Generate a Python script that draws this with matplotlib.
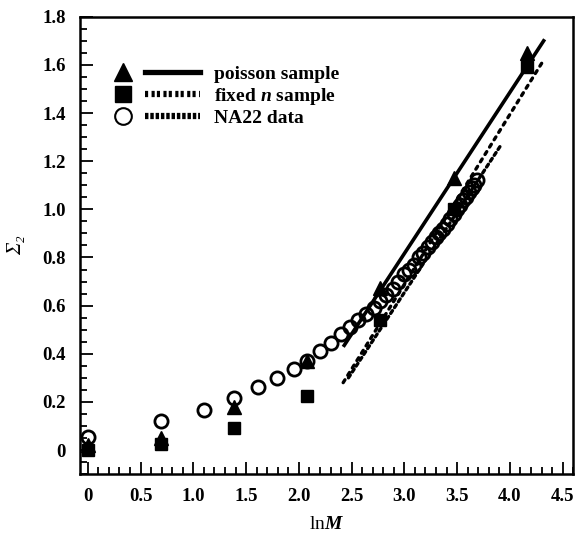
import matplotlib
matplotlib.use("Agg")
import matplotlib.pyplot as plt
from matplotlib.lines import Line2D
from matplotlib.legend_handler import HandlerBase
from matplotlib.ticker import MultipleLocator

# poisson sample (triangles)
poisson_x = [0.0, 0.69, 1.39, 2.08, 2.77, 3.47, 4.16]
poisson_y = [0.02, 0.05, 0.18, 0.37, 0.675, 1.13, 1.65]

# fixed n sample (squares)
fixed_x = [0.0, 0.69, 1.39, 2.08, 2.77, 3.47, 4.16]
fixed_y = [0.0, 0.025, 0.09, 0.225, 0.54, 1.0, 1.59]

# NA22 data (open circles)
na22_x = [0.0, 0.69, 1.10, 1.39, 1.61, 1.79, 1.95, 2.08, 2.20, 2.30,
          2.40, 2.48, 2.56, 2.64, 2.71, 2.77, 2.83, 2.89, 2.94, 3.00,
          3.04, 3.09, 3.14, 3.18, 3.22, 3.26, 3.30, 3.33, 3.37, 3.40,
          3.43, 3.47, 3.50, 3.53, 3.56, 3.58, 3.61, 3.64, 3.66, 3.69]
na22_y = [0.055, 0.12, 0.168, 0.215, 0.26, 0.30, 0.335, 0.37, 0.41, 0.445,
          0.48, 0.51, 0.54, 0.565, 0.59, 0.62, 0.645, 0.67, 0.70, 0.73,
          0.75, 0.77, 0.80, 0.82, 0.845, 0.865, 0.885, 0.90, 0.92, 0.94,
          0.96, 0.98, 1.00, 1.02, 1.04, 1.05, 1.07, 1.09, 1.10, 1.12]

# linear fits (end points)
poisson_fit_x = [2.43, 4.32]
poisson_fit_y = [0.435, 1.70]
fixed_fit_x = [2.42, 4.32]
fixed_fit_y = [0.28, 1.62]
na22_fit_x = [2.47, 3.92]
na22_fit_y = [0.30, 1.27]

x_ticks = [0, 0.5, 1.0, 1.5, 2.0, 2.5, 3.0, 3.5, 4.0, 4.5]
x_labels = ["0", "0.5", "1.0", "1.5", "2.0", "2.5", "3.0", "3.5", "4.0", "4.5"]
y_ticks = [0, 0.2, 0.4, 0.6, 0.8, 1.0, 1.2, 1.4, 1.6, 1.8]
y_labels = ["0", "0.2", "0.4", "0.6", "0.8", "1.0", "1.2", "1.4", "1.6", "1.8"]

legend_labels = ["poisson sample", "fixed $n$ sample", "NA22 data"]

plt.rcParams["font.family"] = ["Liberation Serif", "DejaVu Serif"]
plt.rcParams["font.weight"] = "bold"
plt.rcParams["mathtext.fontset"] = "custom"
plt.rcParams["mathtext.rm"] = "Liberation Serif:bold"
plt.rcParams["mathtext.it"] = "Liberation Serif:italic:bold"

FIXED_LS = (0, (1, 1.6))
NA22_LS = (0, (1, 1.1))


class MarkerLineHandler(HandlerBase):
    # marker on the left, line sample on the right
    def create_artists(self, legend, orig_handle, xdescent, ydescent,
                       width, height, fontsize, trans):
        mk, ls, lw = orig_handle
        y = height / 2 - ydescent
        x0 = -xdescent
        m = Line2D([x0 + 6], [y], marker=mk.get_marker(),
                   markersize=mk.get_markersize(), color="black",
                   markerfacecolor=mk.get_markerfacecolor(),
                   markeredgewidth=mk.get_markeredgewidth(), linestyle="none")
        l = Line2D([x0 + 22, x0 + width], [y, y], color="black",
                   linestyle=ls, linewidth=lw, dash_capstyle="butt")
        m.set_transform(trans)
        l.set_transform(trans)
        return [m, l]


fig = plt.figure(figsize=(5.79, 5.40), dpi=100)
ax = fig.add_axes([0.138, 0.122, 0.852, 0.847])

ax.plot(na22_x, na22_y, linestyle="none", marker="o", markersize=9.5,
        markerfacecolor="none", markeredgecolor="black", markeredgewidth=2.0)
ax.plot(poisson_x, poisson_y, linestyle="none", marker="^", markersize=10,
        color="black")
ax.plot(fixed_x, fixed_y, linestyle="none", marker="s", markersize=9,
        color="black")

ax.plot(poisson_fit_x, poisson_fit_y, color="black", linewidth=2.6)
ax.plot(fixed_fit_x, fixed_fit_y, color="black", linewidth=2.4,
        linestyle=FIXED_LS, dash_capstyle="round")
ax.plot(na22_fit_x, na22_fit_y, color="black", linewidth=2.4,
        linestyle=NA22_LS, dash_capstyle="round")

handles = [
    (Line2D([], [], marker="^", markersize=13, color="black"), "-", 3.8),
    (Line2D([], [], marker="s", markersize=12, color="black"),
     (0, (0.5, 0.55, 0.5, 0.35)), 4.5),
    (Line2D([], [], marker="o", markersize=12, markerfacecolor="none",
            markeredgewidth=1.5), (0, (0.55, 0.3)), 4.5),
]
ax.legend(handles, legend_labels, handler_map={tuple: MarkerLineHandler()},
          loc="upper left", bbox_to_anchor=(0.055, 0.91), frameon=False,
          fontsize=14, handlelength=4.4, handletextpad=0.7,
          labelspacing=0.12, borderaxespad=0)

ax.set_xlim(-0.075, 4.6)
ax.set_ylim(-0.1, 1.8)
ax.set_xticks(x_ticks)
ax.set_xticklabels(x_labels)
ax.set_yticks(y_ticks)
ax.set_yticklabels(y_labels)
ax.xaxis.set_minor_locator(MultipleLocator(0.1))
ax.yaxis.set_minor_locator(MultipleLocator(0.05))
ax.tick_params(which="both", direction="in", top=False, right=False,
               labelsize=13.5, width=1.3, colors="black")
ax.tick_params(which="major", length=9, pad=10)
ax.tick_params(which="minor", length=5)
for sp in ax.spines.values():
    sp.set_linewidth(1.8)

ax.set_xlabel("ln$M$", fontsize=14, labelpad=8)
ax.set_ylabel("Σ₂", fontsize=15, fontstyle="italic", labelpad=12)

fig.savefig("out.png", dpi=100)
